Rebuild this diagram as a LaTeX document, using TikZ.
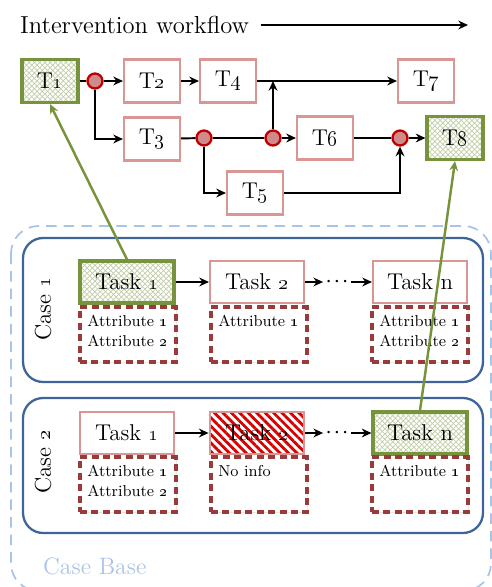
\documentclass[tikz,border=0pt]{standalone}
\usepackage{tikz}
\usepackage{bm}
\usetikzlibrary{arrows.meta, patterns, patterns.meta, shadows}

\definecolor{taskred}{HTML}{D99694}
\definecolor{attrred}{HTML}{993B3B}
\definecolor{matchgreen}{HTML}{77933C}
\definecolor{circred}{HTML}{C00000}
\definecolor{circfill}{HTML}{D08A8A}
\definecolor{caseblue}{HTML}{3D6599}
\definecolor{baseblue}{HTML}{A9C4E6}

\newcommand{\osn}[1]{\oldstylenums{#1}}

\begin{document}
\begin{tikzpicture}[
		x=0.02cm, y=-0.02cm,
		>={Stealth[length=5.5pt,width=5pt]},
		flow/.style   ={line width=1.1pt},
		wf/.style     ={rectangle,	draw=taskred,		fill=white,	line width=1.2pt,	inner sep=0pt,	minimum width=1.12cm,	minimum height=0.86cm,	font=\fontsize{13}{15}\selectfont},
		wfhit/.style  ={wf,	draw=matchgreen,	line width=1.8pt,	preaction={fill=white},	pattern=crosshatch,	pattern color=matchgreen!45},
		split/.style  ={circle,	draw=circred,	fill=circfill,	line width=1.3pt,	inner sep=0pt,	minimum size=0.3cm},
		task/.style   ={rectangle,	draw=taskred,		fill=white,	line width=1.2pt,	inner sep=0pt,	minimum width=1.88cm,	minimum height=0.84cm,	font=\fontsize{13}{15}\selectfont},
		taskhit/.style={task,	draw=matchgreen,	line width=1.8pt,	preaction={fill=white},	pattern=crosshatch,	pattern color=matchgreen!45},
		taskgap/.style={task,	preaction={fill=white},	pattern={Lines[angle=-45,distance=3.4pt,line width=1.6pt]},	pattern color=red!85!black},
		attr/.style   ={rectangle,	draw=attrred,	fill=white,	line width=1.8pt,	dash pattern=on 4pt off 2.5pt,	inner sep=0pt,	minimum width=1.92cm,	minimum height=1.1cm,	drop shadow={opacity=0.18,shadow xshift=0.8pt,shadow yshift=-0.8pt}},
		attrtext/.style={anchor=north west,	align=left,	inner sep=2pt,	font=\fontsize{9}{11.3}\selectfont},
		casebox/.style={rectangle,	rounded corners=0.4cm,	draw=caseblue,	line width=1.3pt,	minimum width=9.2cm},
		caselbl/.style={rotate=90,	font=\fontsize{13}{15}\selectfont},
		link/.style   ={draw=matchgreen,	line width=1.4pt},
	]

	\useasboundingbox (0,0) rectangle (492,587);

	\newcommand\rowa{282}
	\newcommand\rowb{433}

	% case base
	\draw [baseblue, line width=1pt, dash pattern=on 6pt off 4pt, rounded corners=0.55cm] (11,226) rectangle (491,591);
	\node [anchor=west, text=baseblue, font=\fontsize{13.5}{15}\selectfont] (baselbl) at (37,566) {Case Base};

	\node [casebox, minimum height=2.88cm] (case1) at (253,310) {};
	\node [casebox, minimum height=2.7cm]  (case2) at (253,465.5) {};
	\node [caselbl] (case1lbl) at (43,309) {Case \osn{1}};
	\node [caselbl] (case2lbl) at (43,462) {Case \osn{2}};

	% title
	\node [anchor=west, font=\fontsize{14}{16}\selectfont] (title) at (14,25) {Intervention workflow};
	\coordinate (flowend) at (468,25);
	\draw [flow,->] ([xshift=3pt]title.east) -- (flowend);

	% workflow nodes
	\node [wfhit] (T1) at (50,81)   {T\osn{1}};
	\node [wf]    (T2) at (152,81)  {T\osn{2}};
	\node [wf]    (T4) at (228,81)  {T\osn{4}};
	\node [wf]    (T7) at (426,81)  {T\osn{7}};
	\node [wf]    (T3) at (152,139) {T\osn{3}};
	\node [wf]    (T6) at (325,138) {T\osn{6}};
	\node [wfhit] (T8) at (455,138) {T\osn{8}};
	\node [wf]    (T5) at (255,193) {T\osn{5}};

	\foreach \n/\x/\y in {c1/95/81, c2/204/138, c3/273/138, c4/400/138}
		\node [split] (\n) at (\x,\y) {};

	% workflow connections
	\draw [flow]    (T1) -- (c1);
	\draw [flow,->] (c1) -- (T2);
	\draw [flow,->] (c1) |- (T3);
	\draw [flow,->] (T2) -- (T4);
	\draw [flow,->] (T4) -- (T7);
	\draw [flow,->] (c3) -- (c3 |- T4.east);
	\draw [flow]    (T3) -- (c2);
	\draw [flow]    (c2) -- (c3);
	\draw [flow,->] (c3) -- (T6);
	\draw [flow,->] (c2) |- (T5);
	\draw [flow]    (T6) -- (c4);
	\draw [flow,->] (c4) -- (T8);
	\draw [flow,->] (T5) -| (c4);

	% case 1
	\node [taskhit] (task11) at (127,\rowa) {Task \osn{1}};
	\node [task]    (task12) at (257,\rowa) {Task \osn{2}};
	\node [task]    (task13) at (420,\rowa) {Task n};
	\foreach \c/\x in {1/128, 2/259, 3/420}
		\node [attr] (attr1\c) at (\x,334.5) {};
	\node [attrtext] (attr11t) at ([xshift=0.1cm,yshift=-0.12cm]attr11.north west) {Attribute \osn{1}\\Attribute \osn{2}};
	\node [attrtext] (attr12t) at ([xshift=0.1cm,yshift=-0.12cm]attr12.north west) {Attribute \osn{1}};
	\node [attrtext] (attr13t) at ([xshift=0.1cm,yshift=-0.12cm]attr13.north west) {Attribute \osn{1}\\Attribute \osn{2}};

	% case 2
	\node [task]    (task21) at (127,\rowb) {Task \osn{1}};
	\node [taskgap] (task22) at (257,\rowb) {Task \osn{2}};
	\node [taskhit] (task23) at (420,\rowb) {Task n};
	\foreach \c/\x in {1/128, 2/259, 3/420}
		\node [attr] (attr2\c) at (\x,484.5) {};
	\node [attrtext] (attr21t) at ([xshift=0.1cm,yshift=-0.12cm]attr21.north west) {Attribute \osn{1}\\Attribute \osn{2}};
	\node [attrtext] (attr22t) at ([xshift=0.1cm,yshift=-0.12cm]attr22.north west) {No info};
	\node [attrtext] (attr23t) at ([xshift=0.1cm,yshift=-0.12cm]attr23.north west) {Attribute \osn{1}};

	% task sequences
	\foreach \r/\y in {1/\rowa, 2/\rowb} {
		\node [inner sep=1.5pt, font=\fontsize{9}{9}\selectfont] (dots\r) at (337,\y) {$\bm{\cdots}$};
		\draw [flow,->] (task\r1) -- (task\r2);
		\draw [flow,->] (task\r2) -- (dots\r);
		\draw [flow,->] (dots\r) -- (task\r3);
	}

	% matches
	\draw [link,->] (task11.north) -- (T1.south);
	\draw [link,->] (task23.north) -- (T8.south);

\end{tikzpicture}
\end{document}
